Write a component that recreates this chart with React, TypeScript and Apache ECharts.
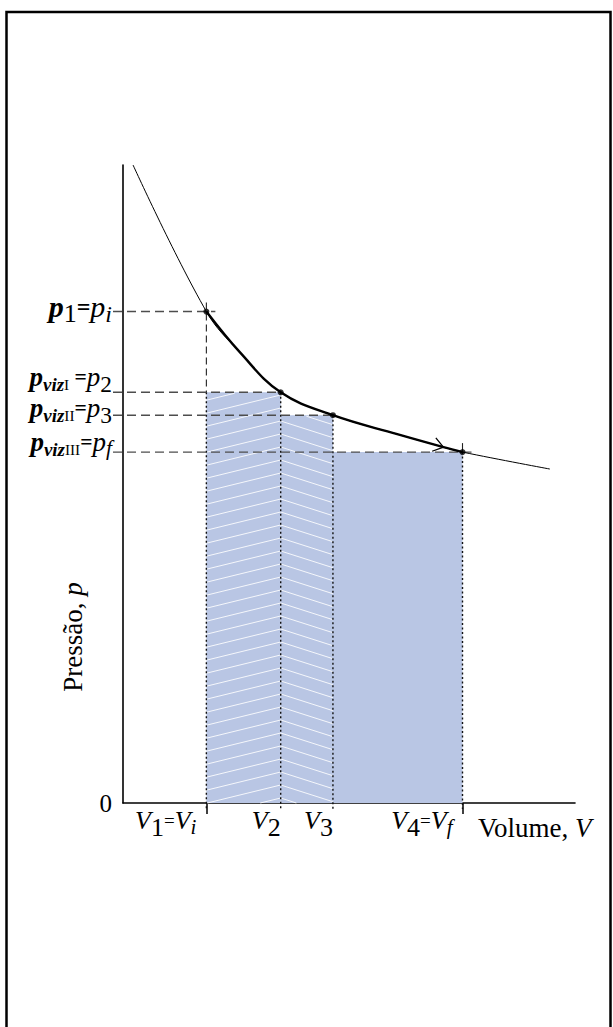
import React, { useEffect, useRef } from "react";
import * as echarts from "echarts";

// ---- data ----
const volumes = [0.83, 1.57, 2.09, 3.38]; // V1=Vi, V2, V3, V4=Vf
const pressures = [4.93, 4.12, 3.89, 3.52]; // p1=pi, p2, p3, pf
const volumeLabels = [
  "{V|V}{n|1}{eq|=}{V|V}{ni|i}",
  "{V|V}{n|2}",
  "{V|V}{n|3}",
  "{V|V}{n|4}{eq|=}{V|V}{ni|f}",
];
const pressureLabels = [
  "{P|p}{n|1}{eq|=}{p|p}{ni|i}",
  "{P|p}{viz|viz}{r|I}{eq| =}{p|p}{n|2}",
  "{P|p}{viz|viz}{r|II}{eq|=}{p|p}{n|3}",
  "{P|p}{viz|viz}{r|III}{eq|=}{p|p}{ni|f}",
];
const curveV = [0.1, 0.83, 1.165, 1.57, 2.09, 2.73, 3.19, 3.38, 4.25];
const curveP = [6.4, 4.93, 4.52, 4.12, 3.89, 3.7, 3.57, 3.52, 3.35];
const arrowIndex = 6;
const hatchDir = [1, -1, 0];
const yLabelShift = [-5, -15, -7, -10];
const yLabelScale = [1, 0.9, 0.9, 0.9];

const SERIF = "'Liberation Serif', 'DejaVu Serif', serif";
const FILL = "#b9c6e4";

function clipSeg(xa: number, ya: number, xb: number, yb: number, top: number, bottom: number) {
  let t0 = 0, t1 = 1;
  const dy = yb - ya;
  if (Math.abs(dy) < 1e-9) {
    if (ya < top || ya > bottom) return null;
  } else {
    const ta = (top - ya) / dy, tb = (bottom - ya) / dy;
    t0 = Math.max(t0, Math.min(ta, tb));
    t1 = Math.min(t1, Math.max(ta, tb));
    if (t0 >= t1) return null;
  }
  return { x1: xa + (xb - xa) * t0, y1: ya + dy * t0, x2: xa + (xb - xa) * t1, y2: ya + dy * t1 };
}

function shiftedRich(base: Record<string, any>, shift: number, scale: number, suffix: string) {
  const out: Record<string, any> = {};
  Object.keys(base).forEach((k) => {
    const st = base[k];
    const pad = st.padding ? st.padding.map((x: number) => x * scale) : [0, 0, 0, 0];
    if (shift < 0) pad[2] += -2 * shift;
    else pad[0] += 2 * shift;
    out[k + suffix] = { ...st, fontSize: Math.round(st.fontSize * scale * 10) / 10, padding: pad };
  });
  return out;
}

function buildOption(): any {
  const curveData = curveV.map((v, i) => [v, curveP[i]]);
  const thickData = curveData.slice(1, 8);
  const pointData = volumes.map((v, i) => [v, pressures[i]]);
  const rectData = volumes.slice(0, -1).map((v, i) => [v, volumes[i + 1], pressures[i + 1], hatchDir[i]]);
  const guideData = volumes.map((v, i) => {
    const hs: number[] = [];
    if (i > 0) hs.push(pressures[i]);
    if (i < volumes.length - 1) hs.push(pressures[i + 1]);
    return [v, pressures[i], Math.max(...hs)];
  });

  const yBase: Record<string, any> = {
    P: { fontFamily: SERIF, fontStyle: "italic", fontWeight: "bold", fontSize: 30, color: "#000" },
    p: { fontFamily: SERIF, fontStyle: "italic", fontSize: 30, color: "#000" },
    n: { fontFamily: SERIF, fontSize: 26, color: "#000", padding: [14, 0, 0, 0] },
    ni: { fontFamily: SERIF, fontStyle: "italic", fontSize: 24, color: "#000", padding: [14, 0, 0, 0] },
    eq: { fontFamily: SERIF, fontWeight: "bold", fontSize: 24, color: "#000" },
    viz: { fontFamily: SERIF, fontStyle: "italic", fontWeight: "bold", fontSize: 21, color: "#000", padding: [17, 0, 0, 0] },
    r: { fontFamily: SERIF, fontSize: 17, color: "#000", padding: [17, 0, 0, 0] },
  };
  let yRich: Record<string, any> = { z: { fontFamily: SERIF, fontSize: 25, color: "#000" } };
  yLabelShift.forEach((s, i) => {
    yRich = { ...yRich, ...shiftedRich(yBase, s, yLabelScale[i], "_" + i) };
  });

  const xRich = {
    V: { fontFamily: SERIF, fontStyle: "italic", fontSize: 26, color: "#000" },
    n: { fontFamily: SERIF, fontSize: 26, color: "#000", padding: [14, 0, 0, 0] },
    ni: { fontFamily: SERIF, fontStyle: "italic", fontSize: 21, color: "#000", padding: [14, 10, 0, 0] },
    eq: { fontFamily: SERIF, fontSize: 19, color: "#000" },
  };

  return {
    animation: false,
    backgroundColor: "#fff",
    grid: { left: 123, top: 165, right: 38, bottom: 224, containLabel: false },
    xAxis: {
      type: "value",
      min: 0,
      max: 4.5,
      splitLine: { show: false },
      axisLine: { show: true, onZero: false, lineStyle: { color: "#000", width: 1.6 } },
      axisTick: { show: true, customValues: [volumes[0], volumes[3]], length: 11, lineStyle: { color: "#000", width: 1.5 } },
      axisLabel: {
        customValues: volumes,
        formatter: (val: number) => {
          const i = volumes.findIndex((v) => Math.abs(v - val) < 1e-6);
          return i >= 0 ? volumeLabels[i] : "";
        },
        align: "right",
        margin: -3,
        rich: xRich,
      },
    },
    yAxis: {
      type: "value",
      min: 0,
      max: 6.4,
      splitLine: { show: false },
      axisLine: { show: true, onZero: false, lineStyle: { color: "#000", width: 1.6 } },
      axisTick: { show: false },
      axisLabel: {
        customValues: [0, ...pressures],
        formatter: (val: number) => {
          if (Math.abs(val) < 1e-9) return "{z|0}";
          const i = pressures.findIndex((p) => Math.abs(p - val) < 1e-6);
          if (i < 0) return "";
          return pressureLabels[i].replace(/\{(\w+)\|/g, (_m: string, k: string) => "{" + k + "_" + i + "|");
        },
        margin: 11,
        rich: yRich,
      },
    },
    graphic: [
      {
        type: "polyline",
        shape: { points: [[6.5, 1030], [6.5, 12], [610.5, 12], [610.5, 1030]] },
        style: { stroke: "#000", lineWidth: 2.5, fill: null },
        silent: true,
      },
      {
        type: "text",
        x: 73,
        y: 637,
        rotation: Math.PI / 2,
        style: {
          text: "Pressão, {i|p}",
          fontFamily: SERIF,
          fontSize: 27,
          fill: "#000",
          align: "center",
          verticalAlign: "middle",
          rich: { i: { fontFamily: SERIF, fontStyle: "italic", fontSize: 27, fill: "#000" } },
        },
      },
      {
        type: "text",
        x: 478,
        y: 828,
        style: {
          text: "Volume, {i|V}",
          fontFamily: SERIF,
          fontSize: 27,
          fill: "#000",
          align: "left",
          verticalAlign: "middle",
          rich: { i: { fontFamily: SERIF, fontStyle: "italic", fontSize: 27, fill: "#000" } },
        },
      },
    ],
    series: [
      {
        type: "custom",
        name: "work",
        z: 1,
        data: rectData,
        renderItem: (params: any, api: any) => {
          const x0 = api.value(0), x1 = api.value(1), h = api.value(2), dir = api.value(3);
          const tl = api.coord([x0, h]);
          const br = api.coord([x1, 0]);
          const top = tl[1], bottom = br[1], left = tl[0], right = br[0];
          const children: any[] = [
            { type: "rect", shape: { x: left, y: top, width: right - left, height: bottom - top }, style: { fill: FILL } },
          ];
          if (dir !== 0) {
            const w = right - left;
            const spacing = 13;
            for (let k = -6; k < 80; k++) {
              const yGrid = bottom - 5 - k * spacing;
              const seg = dir > 0
                ? clipSeg(left, yGrid + w * 0.245, right, yGrid, top + 1, bottom)
                : clipSeg(left, yGrid, right, yGrid + w * 0.32, top + 1, bottom);
              if (seg) children.push({ type: "line", shape: seg, style: { stroke: "rgba(255,255,255,0.85)", lineWidth: 1 } });
            }
          }
          return { type: "group", children };
        },
      },
      {
        type: "custom",
        name: "guides",
        z: 3,
        data: guideData,
        renderItem: (params: any, api: any) => {
          const i = params.dataIndex;
          const v = api.value(0), p = api.value(1), below = api.value(2);
          const pt = api.coord([v, p]);
          const origin = api.coord([0, 0]);
          const bp = api.coord([v, below]);
          const end = i === 0 || i === volumes.length - 1;
          const ext = end ? 9 : 0;
          const children: any[] = [
            {
              type: "line",
              shape: { x1: origin[0] - 10, y1: pt[1], x2: pt[0] + ext, y2: pt[1] },
              style: { stroke: "#4d4d4d", lineWidth: 1.4, lineDash: [9, 5] },
            },
          ];
          if (bp[1] > pt[1] + 1) {
            children.push({
              type: "line",
              shape: { x1: pt[0], y1: pt[1] - ext, x2: pt[0], y2: bp[1] },
              style: { stroke: "#222", lineWidth: 1.1, lineDash: [7, 4] },
            });
          } else if (ext) {
            children.push({
              type: "line",
              shape: { x1: pt[0], y1: pt[1] - ext, x2: pt[0], y2: pt[1] },
              style: { stroke: "#222", lineWidth: 1.1 },
            });
          }
          children.push({
            type: "line",
            shape: { x1: pt[0], y1: Math.max(bp[1], pt[1]), x2: pt[0], y2: origin[1] + 6 },
            style: { stroke: "#111", lineWidth: 1.4, lineDash: [2, 2.5] },
          });
          return { type: "group", children };
        },
      },
      {
        type: "line",
        name: "isotherm",
        z: 4,
        data: curveData,
        smooth: 0.4,
        symbol: "none",
        lineStyle: { color: "#000", width: 1 },
      },
      {
        type: "line",
        name: "process",
        z: 5,
        data: thickData,
        smooth: 0.4,
        symbol: "none",
        lineStyle: { color: "#000", width: 2.4 },
      },
      {
        type: "custom",
        name: "arrow",
        z: 6,
        data: [[curveV[arrowIndex], curveP[arrowIndex]]],
        renderItem: (params: any, api: any) => {
          const tip = api.coord([api.value(0), api.value(1)]);
          const a = api.coord([curveV[arrowIndex - 1], curveP[arrowIndex - 1]]);
          const b = api.coord([curveV[arrowIndex + 1], curveP[arrowIndex + 1]]);
          const ang = Math.atan2(b[1] - a[1], b[0] - a[0]);
          const L = 12, spread = 0.62;
          const p1 = [tip[0] - L * Math.cos(ang - spread), tip[1] - L * Math.sin(ang - spread)];
          const p2 = [tip[0] - L * Math.cos(ang + spread), tip[1] - L * Math.sin(ang + spread)];
          return {
            type: "polyline",
            shape: { points: [p1, tip, p2] },
            style: { stroke: "#000", lineWidth: 1.3, fill: null },
          };
        },
      },
      {
        type: "scatter",
        name: "states",
        z: 7,
        data: pointData,
        symbol: "circle",
        symbolSize: 6,
        itemStyle: { color: "#000" },
      },
    ],
  };
}

export default function App() {
  const ref = useRef<HTMLDivElement>(null);
  useEffect(() => {
    document.body.style.margin = "0";
    document.body.style.overflow = "hidden";
    const chart = echarts.init(ref.current!, null, { renderer: "svg" });
    chart.setOption(buildOption());
    return () => chart.dispose();
  }, []);
  return <div ref={ref} style={{ width: 613, height: 1027 }} />;
}
